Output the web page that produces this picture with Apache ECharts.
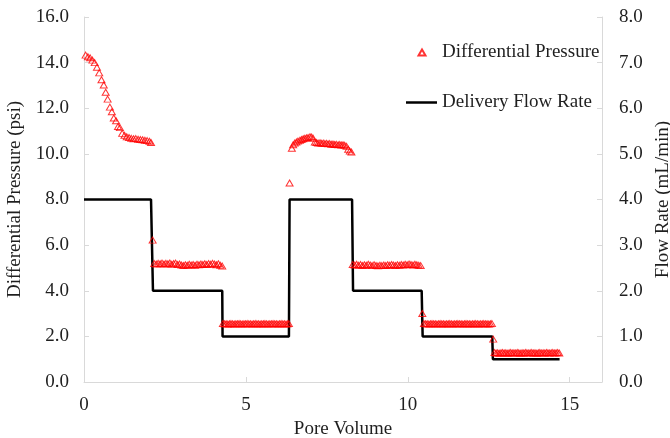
<!DOCTYPE html>
<html>
<head>
<meta charset="utf-8">
<script src="https://cdn.jsdelivr.net/npm/echarts@6/dist/echarts.min.js"></script>
<style>html,body{margin:0;padding:0;background:#fff;}#chart{width:670px;height:438px;}</style>
</head>
<body>
<div id="chart"></div>
<script>
// Differential pressure (psi) vs pore volume, by flow-rate step
const seg1PV = [0.05,0.12,0.19,0.26,0.33,0.40,0.47,0.54,0.61,0.67,0.73,0.80,0.86,0.92,0.99,1.05,1.11,1.18,1.25,1.32,1.39,1.46,1.53,1.60,1.67,1.74,1.81,1.88,1.95,2.02,2.07,2.12];
const seg1DP = [14.33,14.26,14.21,14.11,14.00,13.80,13.55,13.25,13.02,12.70,12.40,12.05,11.85,11.57,11.45,11.20,11.15,10.90,10.82,10.75,10.72,10.68,10.66,10.67,10.64,10.63,10.62,10.60,10.58,10.55,10.50,6.22];

const seg2PV = [2.17,2.23,2.29,2.35,2.41,2.47,2.53,2.59,2.65,2.71,2.77,2.83,2.89,2.95,3.01,3.07,3.13,3.19,3.25,3.31,3.37,3.43,3.49,3.55,3.61,3.67,3.73,3.79,3.85,3.91,3.97,4.03,4.09,4.15,4.21,4.27];
const seg2DP = [5.19,5.17,5.20,5.18,5.21,5.17,5.20,5.18,5.22,5.16,5.19,5.21,5.15,5.17,5.13,5.11,5.14,5.12,5.16,5.13,5.15,5.12,5.16,5.14,5.17,5.15,5.18,5.15,5.19,5.16,5.20,5.17,5.14,5.18,5.12,5.08];

const seg3PV = [4.29,4.34,4.39,4.44,4.49,4.54,4.59,4.64,4.69,4.74,4.79,4.84,4.89,4.94,4.99,5.04,5.09,5.14,5.19,5.24,5.29,5.34,5.39,5.44,5.49,5.54,5.59,5.64,5.69,5.74,5.79,5.84,5.89,5.94,5.99,6.04,6.09,6.14,6.19,6.24,6.29,6.33,6.35];
const seg3DP = [2.56,2.55,2.55,2.54,2.55,2.56,2.55,2.54,2.55,2.55,2.56,2.55,2.54,2.55,2.55,2.56,2.55,2.55,2.54,2.55,2.56,2.55,2.55,2.54,2.55,2.55,2.56,2.55,2.54,2.55,2.55,2.56,2.55,2.55,2.54,2.55,2.56,2.55,2.55,2.54,2.55,2.56,8.72];

const seg4PV = [6.42,6.46,6.51,6.56,6.61,6.67,6.72,6.77,6.82,6.87,6.92,6.98,7.03,7.08,7.13,7.18,7.23,7.29,7.34,7.39,7.44,7.49,7.54,7.59,7.64,7.69,7.74,7.79,7.85,7.90,7.95,8.00,8.05,8.11,8.16,8.21,8.26];
const seg4DP = [10.25,10.40,10.47,10.52,10.56,10.60,10.63,10.66,10.68,10.70,10.72,10.75,10.74,10.68,10.52,10.50,10.48,10.49,10.46,10.47,10.45,10.46,10.44,10.45,10.42,10.43,10.41,10.42,10.40,10.41,10.39,10.40,10.38,10.33,10.20,10.12,10.08];

const seg5PV = [8.30,8.36,8.42,8.48,8.54,8.60,8.66,8.72,8.78,8.84,8.90,8.96,9.02,9.08,9.14,9.20,9.26,9.32,9.38,9.44,9.50,9.56,9.62,9.68,9.74,9.80,9.86,9.92,9.98,10.04,10.10,10.16,10.22,10.28,10.34,10.40,10.45];
const seg5DP = [5.15,5.13,5.16,5.12,5.15,5.11,5.14,5.12,5.16,5.13,5.10,5.14,5.11,5.09,5.12,5.10,5.13,5.11,5.14,5.12,5.15,5.13,5.11,5.14,5.12,5.15,5.13,5.16,5.14,5.17,5.15,5.13,5.16,5.14,5.12,5.10,3.00];

const seg6PV = [10.50,10.55,10.60,10.65,10.70,10.75,10.80,10.85,10.90,10.95,11.00,11.05,11.10,11.15,11.20,11.25,11.30,11.35,11.40,11.45,11.50,11.55,11.60,11.65,11.70,11.75,11.80,11.85,11.90,11.95,12.00,12.05,12.10,12.15,12.20,12.25,12.30,12.35,12.40,12.45,12.50,12.55,12.60,12.64];
const seg6DP = [2.56,2.55,2.55,2.54,2.55,2.56,2.55,2.55,2.54,2.55,2.56,2.55,2.55,2.54,2.55,2.55,2.56,2.55,2.54,2.55,2.55,2.56,2.55,2.55,2.54,2.55,2.56,2.55,2.55,2.54,2.55,2.55,2.56,2.55,2.54,2.55,2.55,2.56,2.55,2.55,2.54,2.55,2.56,1.88];

const seg7PV = [12.68,12.73,12.78,12.83,12.88,12.93,12.98,13.03,13.08,13.13,13.18,13.23,13.28,13.33,13.38,13.43,13.48,13.53,13.58,13.63,13.68,13.73,13.78,13.83,13.88,13.93,13.98,14.03,14.08,14.13,14.18,14.23,14.28,14.33,14.38,14.43,14.48,14.53,14.58,14.63,14.68];
const seg7DP = [1.29,1.27,1.28,1.26,1.28,1.29,1.27,1.28,1.26,1.28,1.29,1.27,1.28,1.27,1.29,1.28,1.26,1.28,1.27,1.29,1.28,1.27,1.28,1.29,1.27,1.28,1.26,1.28,1.29,1.27,1.28,1.27,1.29,1.28,1.27,1.28,1.29,1.27,1.28,1.29,1.27];

// Delivery flow rate (mL/min) step profile
const flowPV   = [0, 2.07, 2.13, 4.27, 4.28, 6.33, 6.35, 8.28, 8.31, 10.43, 10.46, 12.61, 12.63, 14.69];
const flowRate = [4, 4,    2,    2,    1,    1,    4,    4,    2,    2,     1,     1,     0.5,   0.5];

const xTicks = [0, 5, 10, 15];

const pvAll = [].concat(seg1PV, seg2PV, seg3PV, seg4PV, seg5PV, seg6PV, seg7PV);
const dpAll = [].concat(seg1DP, seg2DP, seg3DP, seg4DP, seg5DP, seg6DP, seg7DP);
const pressureData = pvAll.map((x, i) => [x, dpAll[i]]);
const flowData = flowPV.map((x, i) => [x, flowRate[i]]);

const FONT = '"Liberation Serif", "Times New Roman", serif';
const TXT = '#1f1f1f';
const AX = '#d9d9d9';

const chart = echarts.init(document.getElementById('chart'), null, {renderer: 'canvas'});
chart.setOption({
  animation: false,
  backgroundColor: '#fff',
  grid: {left: 84, right: 68, top: 17, bottom: 56, containLabel: false, outerBoundsMode: 'none'},
  legend: [
    {
      data: [{name: 'Differential Pressure', icon: 'path://M0,0M30,6M11.5,6L15,0L18.5,6Z'}],
      left: 406, top: 43, padding: 0, itemWidth: 30, itemHeight: 6,
      selectedMode: false,
      textStyle: {fontFamily: FONT, fontSize: 19, color: TXT}
    },
    {
      data: [{name: 'Delivery Flow Rate', icon: 'rect'}],
      left: 406, top: 93, padding: 0, itemWidth: 31, itemHeight: 2.5,
      selectedMode: false,
      itemStyle: {color: '#000', borderWidth: 0},
      textStyle: {fontFamily: FONT, fontSize: 19, color: TXT}
    }
  ],
  xAxis: {
    type: 'value', min: 0, max: 16, interval: 5,
    name: 'Pore Volume', nameLocation: 'middle', nameGap: 38,
    nameTextStyle: {fontFamily: FONT, fontSize: 19, color: TXT},
    axisLine: {show: true, lineStyle: {color: AX, width: 1}},
    axisTick: {show: true, inside: true, length: 5, lineStyle: {color: AX}},
    axisLabel: {fontFamily: FONT, fontSize: 19, color: TXT, margin: 14, showMaxLabel: false,
      formatter: v => xTicks.includes(v) ? String(v) : ''},
    splitLine: {show: false}
  },
  yAxis: [
    {
      type: 'value', min: 0, max: 16, interval: 2,
      name: 'Differential Pressure (psi)', nameLocation: 'middle', nameGap: 50, nameRotate: 90,
      nameTextStyle: {fontFamily: FONT, fontSize: 19, color: TXT},
      axisLine: {show: true, lineStyle: {color: AX, width: 1}},
      axisTick: {show: true, inside: true, length: 5, lineStyle: {color: AX}},
      axisLabel: {fontFamily: FONT, fontSize: 19, color: TXT, margin: 15, formatter: v => v.toFixed(1)},
      splitLine: {show: false}
    },
    {
      type: 'value', min: 0, max: 8, interval: 1, position: 'right',
      name: 'Flow Rate (mL/min)', nameLocation: 'middle', nameGap: 46, nameRotate: 90,
      nameTextStyle: {fontFamily: FONT, fontSize: 19, color: TXT},
      axisLine: {show: true, lineStyle: {color: AX, width: 1}},
      axisTick: {show: true, inside: true, length: 5, lineStyle: {color: AX}},
      axisLabel: {fontFamily: FONT, fontSize: 19, color: TXT, margin: 17, formatter: v => v.toFixed(1)},
      splitLine: {show: false}
    }
  ],
  series: [
    {
      name: 'Differential Pressure', type: 'scatter', yAxisIndex: 0,
      symbol: 'triangle', symbolSize: [7, 6],
      itemStyle: {color: 'rgba(255,255,255,0)', borderColor: '#ff0000', borderWidth: 1},
      data: pressureData, z: 3
    },
    {
      name: 'Delivery Flow Rate', type: 'line', yAxisIndex: 1,
      showSymbol: false, symbol: 'none',
      lineStyle: {color: '#000', width: 2.5},
      itemStyle: {color: '#000'},
      data: flowData, z: 2
    }
  ]
});
</script>
</body>
</html>
